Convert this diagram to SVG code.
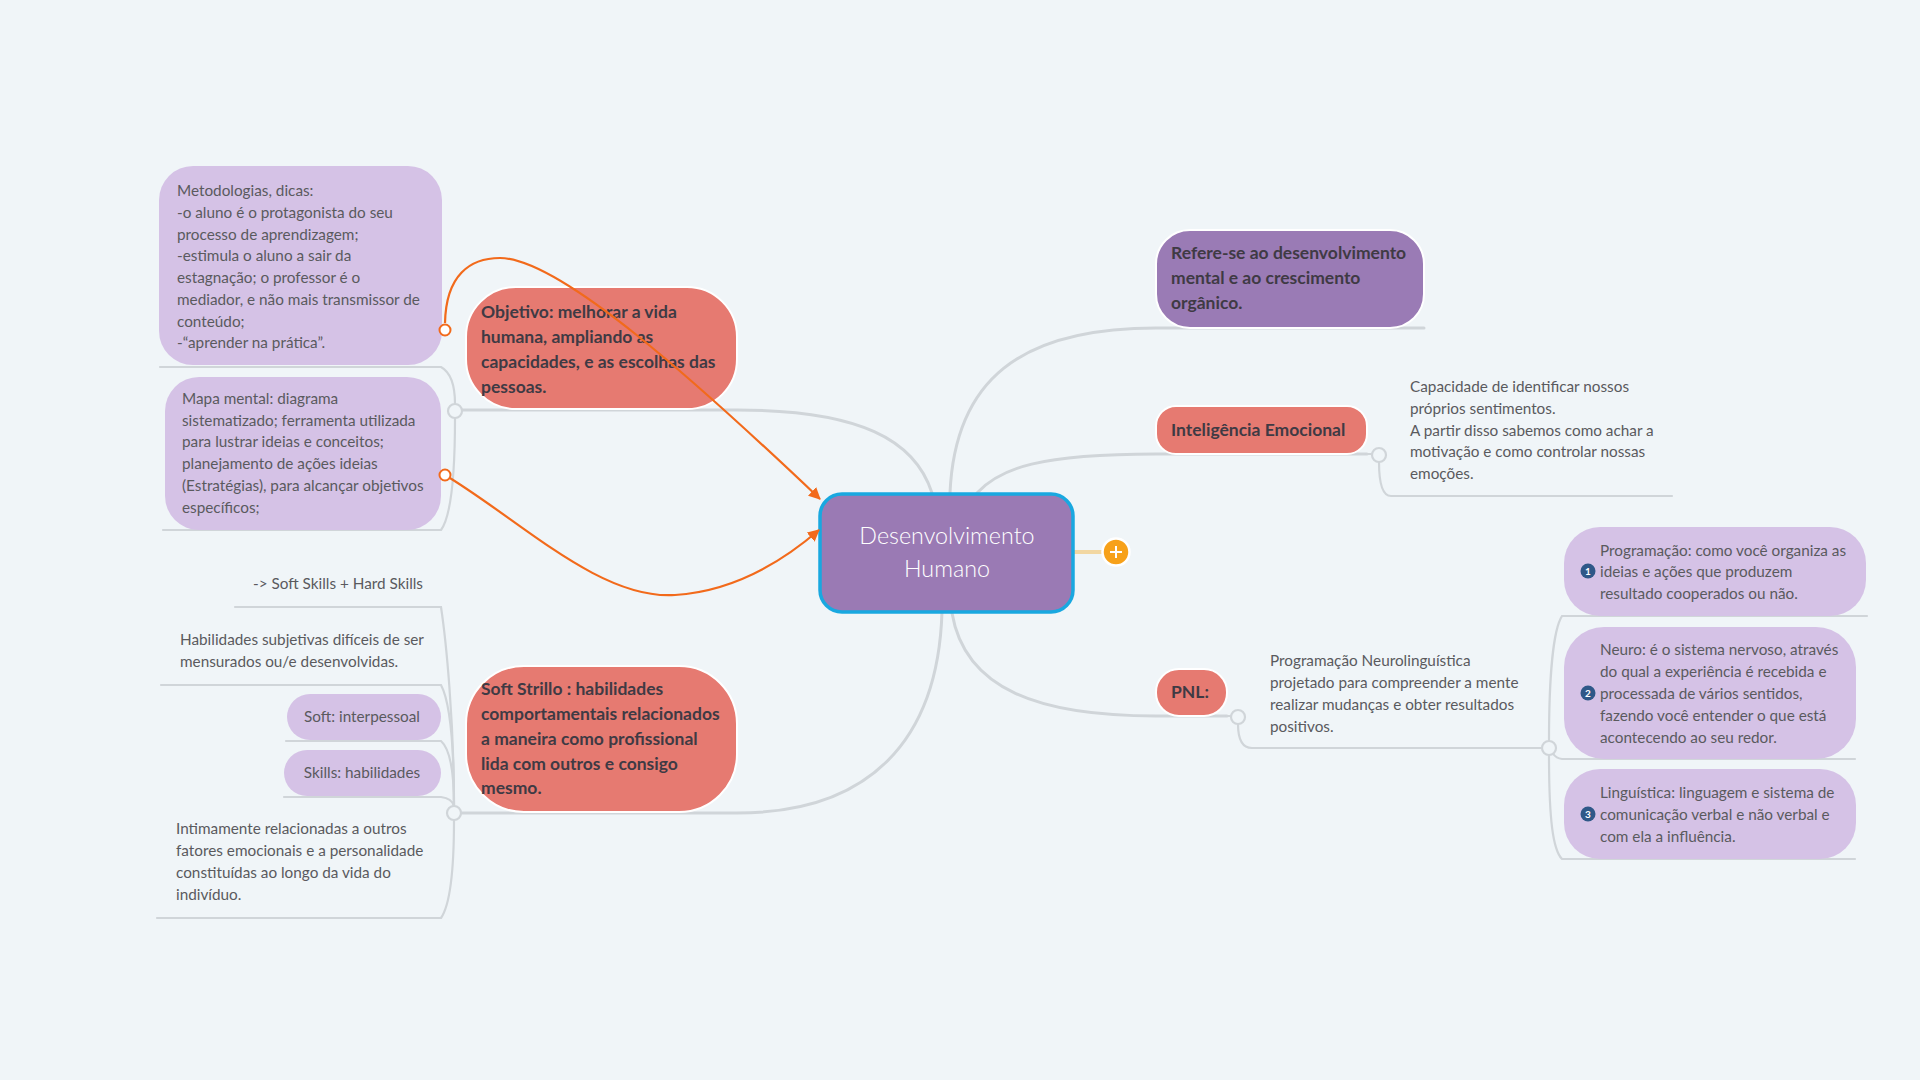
<svg xmlns="http://www.w3.org/2000/svg" width="1920" height="1080" viewBox="0 0 1920 1080">
<defs>
<style>
.bg{fill:#f0f5f8}
.ln{fill:none;stroke:#d0d5d9;stroke-width:3;stroke-linecap:round}
.ln2{fill:none;stroke:#d0d5d9;stroke-width:2.2;stroke-linecap:round}
.knob{fill:#f0f5f8;stroke:#d0d5d9;stroke-width:2.2}
.lp{fill:#d5c2e6}
.red{fill:#e67a71;stroke:#ffffff;stroke-width:2}
.pur{fill:#9a7bb5;stroke:#ffffff;stroke-width:2}
.note{font-family:Lato,"Open Sans",sans-serif;font-size:15.3px;fill:#5a5a5e}
.bold{font-family:Lato,"Open Sans",sans-serif;font-size:17.5px;font-weight:700;fill:#3f3a44}
.rel{fill:none;stroke:#f26a1b;stroke-width:2.2}
.relk{fill:#ffffff;stroke:#f26a1b;stroke-width:2}
.badge{fill:#2f5888}
.bnum{font-family:Lato,sans-serif;font-size:10px;font-weight:700;fill:#ffffff;text-anchor:middle}
</style>
<marker id="arr" viewBox="0 0 12 12" refX="11" refY="6" markerWidth="12" markerHeight="12" markerUnits="userSpaceOnUse" orient="auto">
<path d="M0,0 L12,6 L0,12 Z" fill="#f26a1b"/>
</marker>
</defs>
<rect class="bg" x="0" y="0" width="1920" height="1080"/>

<g id="connectors">
<path class="ln" d="M932,493 C915,440 860,410 737,410 L462,410"/>
<path class="ln" d="M942,612 C938,740 870,813 737,813 L461,813"/>
<path class="ln" d="M950,493 C955,380 1020,328 1156,328 L1424,328"/>
<path class="ln" d="M977,493 C1000,468 1040,454 1156,454 L1367,454"/>
<path class="ln" d="M952,613 C965,690 1040,716 1156,716 L1227,716"/>
<path class="ln2" d="M455,404 C455,385 450,372 441,367 L160,367"/>
<path class="ln2" d="M455,418 C455,470 452,515 441,530 L163,530"/>
<path class="ln2" d="M454,806 C454,720 446,640 441,607 L235,607"/>
<path class="ln2" d="M454,806 C454,740 449,700 441,685 L161,685"/>
<path class="ln2" d="M454,806 C454,770 449,748 441,741 L286,741"/>
<path class="ln2" d="M454,806 C453,802 449,798 441,797 L284,797"/>
<path class="ln2" d="M454,820 C454,870 450,905 441,918 L157,918"/>
<path class="ln2" d="M1367,454 L1372,454"/>
<path class="ln2" d="M1379,462 C1379,485 1383,496 1391,496 L1672,496"/>
<path class="ln2" d="M1227,716 L1231,716"/>
<path class="ln2" d="M1238,724 C1238,740 1243,748 1252,748 L1542,748"/>
<path class="ln2" d="M1549,741 C1549,680 1553,630 1562,616 L1867,616"/>
<path class="ln2" d="M1549,741 C1550,752 1555,758 1562,759 L1855,759"/>
<path class="ln2" d="M1549,755 C1549,820 1553,850 1562,859 L1855,859"/>
<path d="M1074,552 L1104,552" stroke="#f2d7a2" stroke-width="4" fill="none"/>
<circle class="knob" cx="455" cy="411" r="7"/>
<circle class="knob" cx="454" cy="813" r="7"/>
<circle class="knob" cx="1379" cy="455" r="7"/>
<circle class="knob" cx="1238" cy="717" r="7"/>
<circle class="knob" cx="1549" cy="748" r="7"/>
</g>

<g id="central">
<rect x="820" y="494" width="253" height="118" rx="22" fill="#9a7ab4" stroke="#19a8e0" stroke-width="3.5"/>
<text x="947" y="544" font-family="Lato,'Open Sans',sans-serif" font-size="23.3" font-weight="300" fill="#ffffff" text-anchor="middle">Desenvolvimento</text>
<text x="947" y="577" font-family="Lato,'Open Sans',sans-serif" font-size="23.3" font-weight="300" fill="#ffffff" text-anchor="middle">Humano</text>
</g>

<g id="plus">
<circle cx="1116" cy="552" r="13.5" fill="#f7a11a" stroke="#ffffff" stroke-width="2.5"/>
<path d="M1110,552 L1122,552 M1116,546 L1116,558" stroke="#ffffff" stroke-width="2" fill="none"/>
</g>

<g id="objetivo">
<rect class="red" x="466" y="287" width="271" height="122" rx="50"/>
<text class="bold"><tspan x="481" y="318">Objetivo: melhorar a vida</tspan><tspan x="481" y="343">humana, ampliando as</tspan><tspan x="481" y="368">capacidades, e as escolhas das</tspan><tspan x="481" y="393">pessoas.</tspan></text>
</g>

<g id="metodologias">
<rect class="lp" x="159" y="166" width="283" height="199" rx="34"/>
<text class="note"><tspan x="177" y="196">Metodologias, dicas:</tspan><tspan x="177" y="217.8">-o aluno é o protagonista do seu</tspan><tspan x="177" y="239.5">processo de aprendizagem;</tspan><tspan x="177" y="261.3">-estimula o aluno a sair da</tspan><tspan x="177" y="283">estagnação; o professor é o</tspan><tspan x="177" y="304.8">mediador, e não mais transmissor de</tspan><tspan x="177" y="326.6">conteúdo;</tspan><tspan x="177" y="348.3">-“aprender na prática”.</tspan></text>
</g>

<g id="mapa">
<rect class="lp" x="165" y="377" width="276" height="153" rx="34"/>
<text class="note"><tspan x="182" y="404">Mapa mental: diagrama</tspan><tspan x="182" y="425.7">sistematizado; ferramenta utilizada</tspan><tspan x="182" y="447.4">para lustrar ideias e conceitos;</tspan><tspan x="182" y="469.1">planejamento de ações ideias</tspan><tspan x="182" y="490.8">(Estratégias), para alcançar objetivos</tspan><tspan x="182" y="512.5">específicos;</tspan></text>
</g>

<g id="soft">
<rect class="red" x="466" y="666" width="271" height="146" rx="58"/>
<text class="bold"><tspan x="481" y="695">Soft Strillo : habilidades</tspan><tspan x="481" y="720">comportamentais relacionados</tspan><tspan x="481" y="745">a maneira como profissional</tspan><tspan x="481" y="769.5">lida com outros e consigo</tspan><tspan x="481" y="794">mesmo.</tspan></text>
</g>

<g id="softhard">
<text class="note" x="423" y="589" text-anchor="end">-&gt; Soft Skills + Hard Skills</text>
</g>

<g id="subjetivas">
<text class="note"><tspan x="180" y="645">Habilidades subjetivas difíceis de ser</tspan><tspan x="180" y="666.5">mensurados ou/e desenvolvidas.</tspan></text>
</g>

<g id="interpessoal">
<rect class="lp" x="287" y="694" width="154" height="46" rx="23"/>
<text class="note" x="362" y="722" text-anchor="middle">Soft: interpessoal</text>
</g>

<g id="habilidades">
<rect class="lp" x="284" y="750" width="157" height="46" rx="23"/>
<text class="note" x="362" y="778" text-anchor="middle">Skills: habilidades</text>
</g>

<g id="intimamente">
<text class="note"><tspan x="176" y="834">Intimamente relacionadas a outros</tspan><tspan x="176" y="856">fatores emocionais e a personalidade</tspan><tspan x="176" y="878">constituídas ao longo da vida do</tspan><tspan x="176" y="900">indivíduo.</tspan></text>
</g>

<g id="refere">
<rect class="pur" x="1156" y="230" width="268" height="98" rx="34"/>
<text class="bold"><tspan x="1171" y="259">Refere-se ao desenvolvimento</tspan><tspan x="1171" y="284">mental e ao crescimento</tspan><tspan x="1171" y="309">orgânico.</tspan></text>
</g>

<g id="inteligencia">
<rect class="red" x="1156" y="406" width="211" height="48" rx="20"/>
<text class="bold" x="1171" y="436">Inteligência Emocional</text>
</g>

<g id="capacidade">
<text class="note"><tspan x="1410" y="392">Capacidade de identificar nossos</tspan><tspan x="1410" y="413.8">próprios sentimentos.</tspan><tspan x="1410" y="435.6">A partir disso sabemos como achar a</tspan><tspan x="1410" y="457.4">motivação e como controlar nossas</tspan><tspan x="1410" y="479.2">emoções.</tspan></text>
</g>

<g id="pnl">
<rect class="red" x="1156" y="669" width="71" height="47" rx="23"/>
<text class="bold" x="1171" y="698">PNL:</text>
</g>

<g id="neurolinguistica">
<text class="note"><tspan x="1270" y="665.5">Programação Neurolinguística</tspan><tspan x="1270" y="687.5">projetado para compreender a mente</tspan><tspan x="1270" y="709.5">realizar mudanças e obter resultados</tspan><tspan x="1270" y="731.5">positivos.</tspan></text>
</g>

<g id="programacao">
<rect class="lp" x="1564" y="527" width="302" height="89" rx="36"/>
<circle class="badge" cx="1588" cy="571" r="7.5"/>
<text class="bnum" x="1588" y="574.5">1</text>
<text class="note"><tspan x="1600" y="555.5">Programação: como você organiza as</tspan><tspan x="1600" y="577">ideias e ações que produzem</tspan><tspan x="1600" y="599">resultado cooperados ou não.</tspan></text>
</g>

<g id="neuro">
<rect class="lp" x="1564" y="627" width="292" height="132" rx="40"/>
<circle class="badge" cx="1588" cy="693" r="7.5"/>
<text class="bnum" x="1588" y="696.5">2</text>
<text class="note"><tspan x="1600" y="655">Neuro: é o sistema nervoso, através</tspan><tspan x="1600" y="677">do qual a experiência é recebida e</tspan><tspan x="1600" y="699">processada de vários sentidos,</tspan><tspan x="1600" y="720.5">fazendo você entender o que está</tspan><tspan x="1600" y="742.5">acontecendo ao seu redor.</tspan></text>
</g>

<g id="linguistica">
<rect class="lp" x="1564" y="769" width="292" height="90" rx="36"/>
<circle class="badge" cx="1588" cy="814" r="7.5"/>
<text class="bnum" x="1588" y="817.5">3</text>
<text class="note"><tspan x="1600" y="798">Linguística: linguagem e sistema de</tspan><tspan x="1600" y="819.5">comunicação verbal e não verbal e</tspan><tspan x="1600" y="841.5">com ela a influência.</tspan></text>
</g>

<g id="relations">
<path class="rel" d="M445,323 C446,275 470,258 500,258 C560,258 700,385 820,499" marker-end="url(#arr)"/>
<path class="rel" d="M445,475 C520,520 600,600 675,595 C740,591 790,555 819,530" marker-end="url(#arr)"/>
<circle class="relk" cx="445" cy="330" r="5.5"/>
<circle class="relk" cx="445" cy="475" r="5.5"/>
</g>
</svg>
